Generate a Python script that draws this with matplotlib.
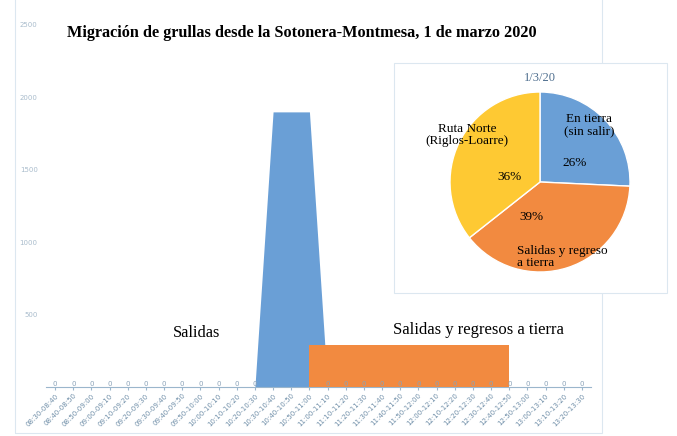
import numpy as np
import matplotlib
matplotlib.use("Agg")
import matplotlib.pyplot as plt
from matplotlib.patches import Rectangle

# data: 10-minute slots, 1 March 2020
slots = ["08:30-08:40", "08:40-08:50", "08:50-09:00", "09:00-09:10", "09:10-09:20",
         "09:20-09:30", "09:30-09:40", "09:40-09:50", "09:50-10:00", "10:00-10:10",
         "10:10-10:20", "10:20-10:30", "10:30-10:40", "10:40-10:50", "10:50-11:00",
         "11:00-11:10", "11:10-11:20", "11:20-11:30", "11:30-11:40", "11:40-11:50",
         "11:50-12:00", "12:00-12:10", "12:10-12:20", "12:20-12:30", "12:30-12:40",
         "12:40-12:50", "12:50-13:00", "13:00-13:10", "13:10-13:20", "13:20-13:30"]
salidas = [0, 0, 0, 0, 0, 0, 0, 0, 0, 0, 0, 0, 1900, 1900, 1900,
           0, 0, 0, 0, 0, 0, 0, 0, 0, 0, 0, 0, 0, 0, 0]
# salidas y regresos: only present between 10:50 and 12:40
regresos = [np.nan] * 14 + [290] * 12 + [np.nan] * 4

pie_labels = ["En tierra\n(sin salir)", "Salidas y regreso\na tierra", "Ruta Norte\n(Riglos-Loarre)"]
pie_values = [26, 39, 36]

blue = "#6a9fd6"
orange = "#f28a40"
yellow = "#fec933"
axis_col = "#9bb6cc"
serif = ["Liberation Serif", "DejaVu Serif"]

fig = plt.figure(figsize=(6.77, 4.36), dpi=100)
W, H = 677, 436

def fr(x0, y0, x1, y1):
    # pixel box -> figure fraction [l, b, w, h]
    return [x0 / W, (H - y1) / H, (x1 - x0) / W, (y1 - y0) / H]

# outer chart frame
frame = Rectangle((15 / W, 3 / H), 587 / W, 440 / H, transform=fig.transFigure,
                  fill=False, edgecolor="#dce7f0", lw=0.8)
fig.add_artist(frame)

ax = fig.add_axes(fr(46, 25, 591, 387))
x = np.arange(len(slots))
ax.fill_between(x, salidas, color=blue, lw=0, zorder=2)
reg = np.array(regresos, dtype=float)
ax.fill_between(x, np.nan_to_num(reg), where=~np.isnan(reg), color=orange, lw=0, zorder=3)

for i, v in enumerate(salidas):
    if v == 0:
        ax.text(i, 0, "0", fontsize=5, color="#8aa2b8", ha="center", va="bottom", zorder=4)

ax.set_xlim(-0.5, len(slots) - 0.5)
ax.set_ylim(0, 2500)
ax.set_yticks([0, 500, 1000, 1500, 2000, 2500])
ax.set_yticklabels(["", "500", "1000", "1500", "2000", "2500"])
ax.set_xticks(x)
ax.set_xticklabels(slots, rotation=45, ha="right", rotation_mode="anchor", fontsize=5, color="#6f8ea8")
ax.tick_params(axis="y", length=0, labelsize=5, labelcolor="#a9bccc", pad=6)
ax.tick_params(axis="x", length=2, color=axis_col, pad=2)
for s in ["top", "right", "left"]:
    ax.spines[s].set_visible(False)
ax.spines["bottom"].set_color(axis_col)
ax.spines["bottom"].set_linewidth(0.8)
ax.set_facecolor("none")

fig.text(67 / W, 1 - 33 / H, "Migración de grullas desde la Sotonera-Montmesa, 1 de marzo 2020",
         family=serif, fontweight="bold", fontsize=11.7, va="center", ha="left")
ax.text(7.8, 370, "Salidas", family=serif, fontsize=11.8, ha="center", va="center")
ax.text(23.3, 392, "Salidas y regresos a tierra", family=serif, fontsize=12, ha="center", va="center")

# pie inset box
box = Rectangle((394 / W, (H - 293) / H), 273 / W, 230 / H, transform=fig.transFigure,
                facecolor="white", edgecolor="#dce7f0", lw=0.8, zorder=5)
fig.add_artist(box)

pax = fig.add_axes(fr(450, 92, 630, 272), zorder=6)
pax.pie(pie_values, colors=[blue, orange, yellow], startangle=90, counterclock=False,
        wedgeprops=dict(edgecolor="white", linewidth=1))
pax.set_xlim(-1, 1)
pax.set_ylim(-1, 1)
pax.set_aspect("equal")

fig.text(540 / W, 1 - 78 / H, "1/3/20", family=serif, fontsize=9, color="#4f6f8f",
         ha="center", va="center", zorder=7)
fig.text(575 / W, 1 - 163 / H, "26%", family=serif, fontsize=9.5, ha="center", va="center", zorder=7)
fig.text(531 / W, 1 - 217 / H, "39%", family=serif, fontsize=9.5, ha="center", va="center", zorder=7)
fig.text(510 / W, 1 - 177 / H, "36%", family=serif, fontsize=9.5, ha="center", va="center", zorder=7)
fig.text(589 / W, 1 - 125 / H, pie_labels[0], family=serif, fontsize=9.5, ha="center", va="center",
         linespacing=1.1, zorder=7)
fig.text(517 / W, 1 - 257 / H, pie_labels[1], family=serif, fontsize=9.5, ha="left", va="center",
         linespacing=1.1, zorder=7)
fig.text(467 / W, 1 - 135 / H, pie_labels[2], family=serif, fontsize=9.5, ha="center", va="center",
         linespacing=1.1, zorder=7)

fig.savefig("out.png", dpi=100)
